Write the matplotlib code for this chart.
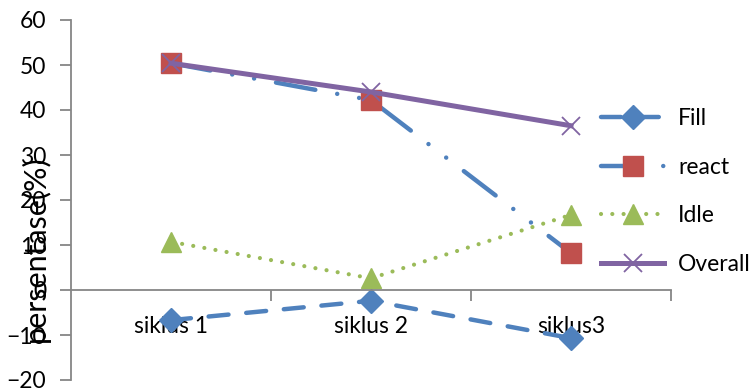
import matplotlib
matplotlib.use("Agg")
import matplotlib.pyplot as plt
from matplotlib.ticker import FixedLocator

plt.rcParams['font.family'] = ['Lato', 'DejaVu Sans']

categories = ["siklus 1", "siklus 2", "siklus3"]
fill = [-6.7, -2.4, -10.7]
react = [50.4, 42.2, 8.2]
idle = [10.7, 2.6, 16.7]
overall = [50.4, 44.0, 36.5]
yticks = [-20, -10, 0, 10, 20, 30, 40, 50, 60]

BLUE = "#4F81BD"
RED = "#C0504D"
GREEN = "#9BBB59"
PURPLE = "#8064A2"
GRAY = "#868686"
FS = 16.5

fig = plt.figure(figsize=(7.5, 3.92), dpi=100)
ax = fig.add_axes([71 / 750, 12 / 392, 600 / 750, 360 / 392])

x = list(range(len(categories)))

l1, = ax.plot(x, fill, color=BLUE, lw=3.2, dashes=(4.5, 4.0),
              dash_capstyle='round', marker='D', ms=12, mec=BLUE, mfc=BLUE,
              label="Fill")
l2, = ax.plot(x, react, color=BLUE, lw=3.2,
              dashes=(9, 5, 0.01, 5, 0.01, 5), dash_capstyle='round',
              marker='s', ms=14, mec=RED, mfc=RED, label="react")
l3, = ax.plot(x, idle, color=GREEN, lw=3.0, dashes=(0.01, 2.7),
              dash_capstyle='round', marker='^', ms=14, mec=GREEN, mfc=GREEN,
              label="Idle")
l4, = ax.plot(x, overall, color=PURPLE, lw=3.6, marker='x', ms=13,
              mew=1.3, mec=PURPLE, label="Overall")

ax.set_xlim(-0.5, 2.5)
ax.set_ylim(-20, 60)
ax.set_yticks(yticks)
ax.tick_params(axis='y', direction='out', length=8, width=1.3, color=GRAY,
               labelsize=FS, pad=10, labelcolor='black')

ax.spines['top'].set_visible(False)
ax.spines['right'].set_visible(False)
ax.spines['left'].set_color(GRAY)
ax.spines['left'].set_linewidth(1.3)
ax.spines['bottom'].set_position(('data', 0))
ax.spines['bottom'].set_color(GRAY)
ax.spines['bottom'].set_linewidth(1.3)

ax.set_xticks(x)
ax.set_xticklabels(categories)
ax.xaxis.set_minor_locator(FixedLocator([0.5, 1.5, 2.5]))
ax.tick_params(axis='x', which='major', length=0, pad=19, labelsize=FS,
               labelcolor='black')
ax.tick_params(axis='x', which='minor', direction='out', length=8,
               width=1.3, color=GRAY)

# y-axis title sits over the tick labels, a little below the axis centre
fig.text(35 / 750, 1 - 249 / 392, "persentase(%)", rotation=90,
         ha='center', va='center', fontsize=22, color='black')

leg = ax.legend(handles=[l1, l2, l3, l4], loc='upper left',
                bbox_to_anchor=(590 / 750, 1 - 97 / 392),
                bbox_transform=fig.transFigure, frameon=False,
                fontsize=FS, handlelength=2.75, handletextpad=0.6,
                labelspacing=1.2, numpoints=1, borderpad=0)

fig.savefig("out.png", dpi=100)
